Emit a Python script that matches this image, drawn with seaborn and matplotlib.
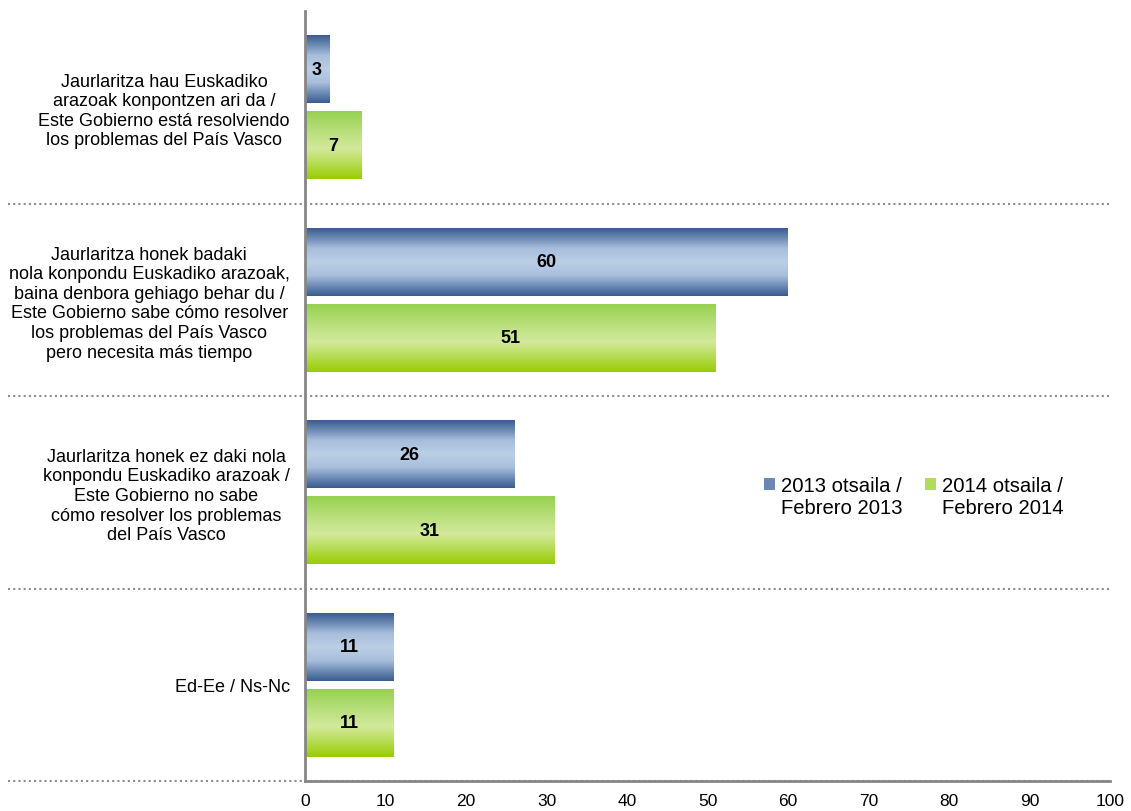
import numpy as np
import pandas as pd
import matplotlib
matplotlib.use('Agg')
import matplotlib.pyplot as plt
import matplotlib.patches as mpatches
from matplotlib.legend_handler import HandlerPatch
from matplotlib.colors import LinearSegmentedColormap
from matplotlib.lines import Line2D
import seaborn as sns

categories = [
    'Jaurlaritza hau Euskadiko\narazoak konpontzen ari da /\nEste Gobierno está resolviendo\nlos problemas del País Vasco',
    'Jaurlaritza honek badaki\nnola konpondu Euskadiko arazoak,\nbaina denbora gehiago behar du /\nEste Gobierno sabe cómo resolver\nlos problemas del País Vasco\npero necesita más tiempo',
    'Jaurlaritza honek ez daki nola\nkonpondu Euskadiko arazoak /\nEste Gobierno no sabe\ncómo resolver los problemas\ndel País Vasco',
    'Ed-Ee / Ns-Nc',
]
series = ['2013 otsaila /\nFebrero 2013', '2014 otsaila /\nFebrero 2014']
values_2013 = [3, 60, 26, 11]
values_2014 = [7, 51, 31, 11]

df = pd.DataFrame({
    'cat': categories * 2,
    'serie': [series[0]] * 4 + [series[1]] * 4,
    'val': values_2013 + values_2014,
})

sns.set_style('white')
plt.rcParams['font.family'] = ['Liberation Sans', 'DejaVu Sans']
plt.rcParams['text.color'] = 'black'

blue_solid = '#4f6fa0'
green_solid = '#a4d65a'

fig = plt.figure(figsize=(11.31, 8.12), dpi=100)
ax = fig.add_axes([305 / 1131, 1 - 782 / 812, 805 / 1131, 770 / 812])

sns.barplot(data=df, y='cat', x='val', hue='serie', orient='h',
            palette=[blue_solid, green_solid], width=0.788, gap=0.107,
            ax=ax, legend=False)

blue_cmap = LinearSegmentedColormap.from_list('b', [
    (0.0, '#3a5c90'), (0.12, '#6282ae'), (0.3, '#a8bedc'),
    (0.5, '#bacee6'), (0.7, '#a8bedc'), (0.88, '#6282ae'), (1.0, '#3a5c90')])
green_cmap = LinearSegmentedColormap.from_list('g', [
    (0.0, '#96d150'), (0.3, '#b8df7c'), (0.55, '#d3e99c'),
    (0.8, '#b3da4a'), (1.0, '#99cc00')])
grad = np.linspace(0, 1, 256).reshape(-1, 1)

for p in list(ax.patches):
    w = p.get_width()
    if w <= 0:
        continue
    x0, y0, h = p.get_x(), p.get_y(), p.get_height()
    fc = p.get_facecolor()
    cmap = blue_cmap if fc[2] > fc[1] else green_cmap
    ax.imshow(grad, cmap=cmap, aspect='auto', extent=(x0, x0 + w, y0 + h, y0),
              zorder=2, interpolation='bilinear')
    p.set_facecolor('none')
    p.set_edgecolor('none')
    ax.text(x0 + w / 2, y0 + h / 2, f'{int(round(w))}', ha='center', va='center',
            fontsize=13, fontweight='bold', color='black', zorder=3)

ax.set_xlim(0, 100)
ax.set_ylim(3.5, -0.5)
ax.set_xticks(np.arange(0, 101, 10))
ax.set_yticks(range(4))
ax.set_yticklabels(categories, fontsize=13, ha='right', multialignment='center',
                   linespacing=1.2)
ax.tick_params(axis='y', which='major', length=0, pad=11, labelcolor='black')
ax.set_yticks(np.arange(-0.5, 3.6, 1), minor=True)
ax.tick_params(axis='y', which='minor', length=5, width=2, color='#868686', direction='out')
ax.tick_params(axis='x', length=6, width=2, color='#868686', labelsize=12.5, pad=3,
               labelcolor='black')
ax.set_xlabel('')
ax.set_ylabel('')

for s in ['top', 'right']:
    ax.spines[s].set_visible(False)
for s in ['left', 'bottom']:
    ax.spines[s].set_color('#868686')
    ax.spines[s].set_linewidth(2)

for yb in [0.5, 1.5, 2.5, 3.5]:
    ax.add_line(Line2D([-0.369, 1.0], [yb, yb], transform=ax.get_yaxis_transform(),
                       color='#8c8c8c', lw=1.5, ls=(0, (1, 1.5)), clip_on=False, zorder=1))


class TopHandler(HandlerPatch):
    def create_artists(self, legend, orig_handle, xdescent, ydescent, width, height,
                       fontsize, trans):
        r = mpatches.Rectangle((-xdescent, -ydescent + 0.62 * fontsize), width, height,
                               facecolor=orig_handle.get_facecolor(), edgecolor='none',
                               transform=trans)
        return [r]


handles = [mpatches.Patch(facecolor='#6b88b4', edgecolor='none'),
           mpatches.Patch(facecolor='#b0dc5a', edgecolor='none')]
leg = ax.legend(handles, series, loc='center left', bbox_to_anchor=(0.547, 0.37), ncol=2,
                frameon=False, fontsize=14.6, handlelength=0.55, handleheight=0.55,
                handletextpad=0.3, columnspacing=1.1,
                handler_map={mpatches.Patch: TopHandler()})
for t in leg.get_texts():
    t.set_color('black')

fig.savefig('out.png', dpi=100)
